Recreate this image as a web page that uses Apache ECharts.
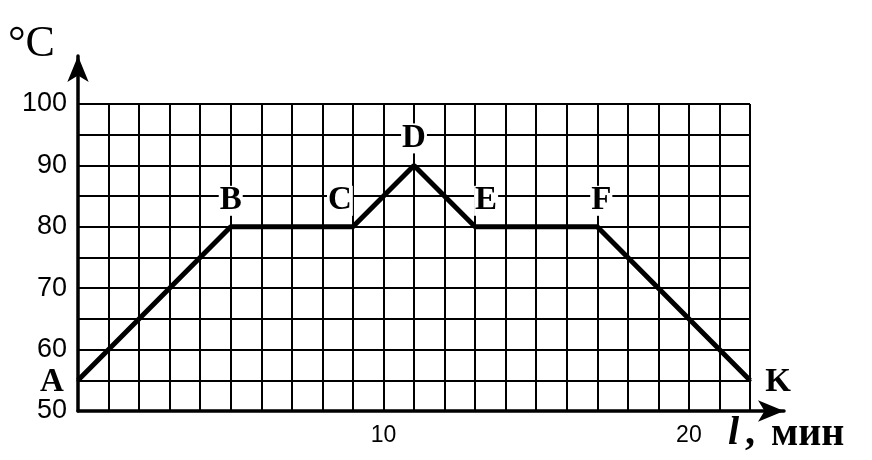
<!DOCTYPE html>
<html>
<head>
<meta charset="utf-8">
<script src="https://cdn.jsdelivr.net/npm/echarts@6/dist/echarts.min.js"></script>
<style>
  html, body { margin: 0; padding: 0; background: #fff; }
  #chart { width: 872px; height: 460px; }
</style>
</head>
<body>
<div id="chart"></div>
<script>
// точки графика нагрева/охлаждения
var pointNames = ['A', 'B', 'C', 'D', 'E', 'F', 'K'];
var timeMin = [0, 5, 9, 11, 13, 17, 22];
var tempC = [55, 80, 80, 90, 80, 80, 55];
var xTickLabels = [10, 20];
var yTickLabels = [50, 60, 70, 80, 90, 100];

// сдвиг буквы от точки (px)
var labelOff = [[-26, 2], [0, -26], [-13, -26], [0, -27], [11, -26], [4, -26], [28, 2]];

var chart = echarts.init(document.getElementById('chart'));

var lineData = timeMin.map(function (t, i) {
  return {
    value: [t, tempC[i]],
    name: pointNames[i],
    label: { position: 'inside', offset: labelOff[i] }
  };
});

chart.setOption({
  animation: false,
  backgroundColor: '#fff',
  grid: [
    { left: 78, right: 122, top: 104, bottom: 49 },
    // вторая сетка только для осей со стрелками
    { left: 78, right: 88, top: 56, bottom: 49 }
  ],
  xAxis: [
    {
      type: 'value', gridIndex: 0, min: 0, max: 22, interval: 1,
      axisLine: { show: false },
      axisTick: { show: false },
      splitLine: { show: true, lineStyle: { color: '#000', width: 2 } },
      axisLabel: {
        color: '#000', fontSize: 23, fontFamily: 'Liberation Sans', margin: 13,
        formatter: function (v) { return xTickLabels.indexOf(v) >= 0 ? String(v) : ''; }
      }
    },
    {
      type: 'value', gridIndex: 1, min: 0, max: 1,
      axisLine: { show: true, symbol: ['none', 'arrow'], symbolSize: [16, 26],
        lineStyle: { color: '#000', width: 3.5 } },
      axisTick: { show: false }, axisLabel: { show: false }, splitLine: { show: false }
    }
  ],
  yAxis: [
    {
      type: 'value', gridIndex: 0, min: 50, max: 100, interval: 5,
      axisLine: { show: false },
      axisTick: { show: false },
      splitLine: { show: true, lineStyle: { color: '#000', width: 2 } },
      axisLabel: {
        color: '#000', fontSize: 27, fontFamily: 'Liberation Sans', margin: 11,
        formatter: function (v) { return yTickLabels.indexOf(v) >= 0 ? String(v) : ''; }
      }
    },
    {
      type: 'value', gridIndex: 1, min: 0, max: 1,
      axisLine: { show: true, symbol: ['none', 'arrow'], symbolSize: [16, 26],
        lineStyle: { color: '#000', width: 3.5 } },
      axisTick: { show: false }, axisLabel: { show: false }, splitLine: { show: false }
    }
  ],
  graphic: [
    { type: 'text', left: 8, top: 22,
      style: { text: '°C', font: '44px "Liberation Serif"', fill: '#000' } },
    { type: 'text', left: 728, top: 414,
      style: { text: 'l', font: 'italic bold 40px "Liberation Serif"', fill: '#000' } },
    { type: 'text', left: 745, top: 414,
      style: { text: ',', font: 'bold 40px "Liberation Serif"', fill: '#000' } },
    { type: 'text', left: 771, top: 415,
      style: { text: 'мин', font: 'bold 40px "Liberation Serif"', fill: '#000' } }
  ],
  series: [{
    type: 'line',
    xAxisIndex: 0, yAxisIndex: 0,
    data: lineData,
    symbol: 'circle',
    symbolSize: 3,
    itemStyle: { color: '#000' },
    lineStyle: { color: '#000', width: 5 },
    label: {
      show: true,
      formatter: '{b}',
      color: '#000',
      fontSize: 33,
      fontWeight: 'bold',
      fontFamily: 'Liberation Serif',
      backgroundColor: '#fff',
      padding: [0, 1, -3, 1]
    }
  }]
});
</script>
</body>
</html>
